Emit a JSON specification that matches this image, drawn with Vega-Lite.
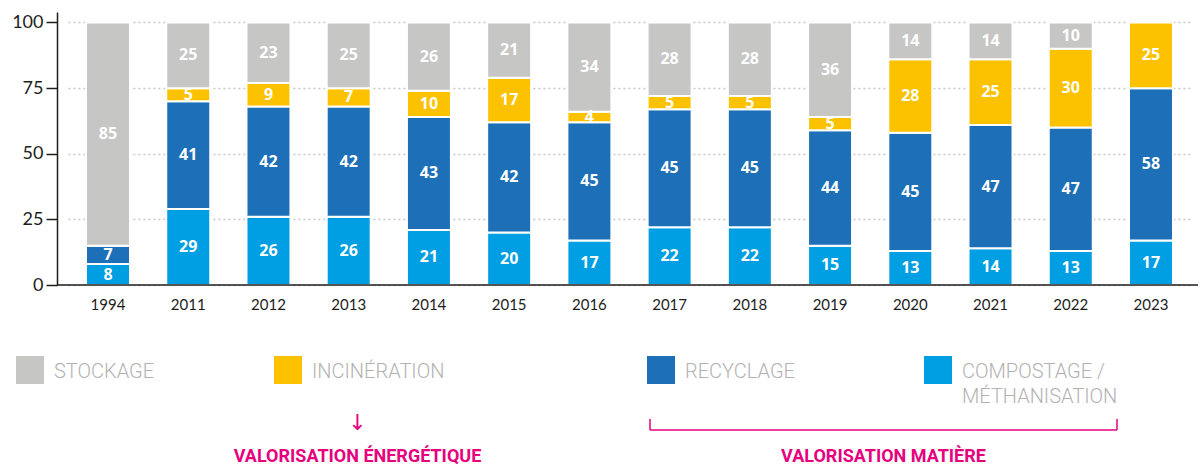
{
  "$schema": "https://vega.github.io/schema/vega-lite/v6.json",
  "width": 1141,
  "height": 273,
  "autosize": {"type": "none"},
  "padding": {"left": 57, "top": 12, "right": 4, "bottom": 181},
  "background": "white",
  "config": {"view": {"stroke": null}},
  "datasets": {
    "parts": [
      {"annee": "1994", "cat": "COMPOSTAGE / MÉTHANISATION", "v": 8},
      {"annee": "1994", "cat": "RECYCLAGE", "v": 7},
      {"annee": "1994", "cat": "STOCKAGE", "v": 85},
      {"annee": "2011", "cat": "COMPOSTAGE / MÉTHANISATION", "v": 29},
      {"annee": "2011", "cat": "RECYCLAGE", "v": 41},
      {"annee": "2011", "cat": "INCINÉRATION", "v": 5},
      {"annee": "2011", "cat": "STOCKAGE", "v": 25},
      {"annee": "2012", "cat": "COMPOSTAGE / MÉTHANISATION", "v": 26},
      {"annee": "2012", "cat": "RECYCLAGE", "v": 42},
      {"annee": "2012", "cat": "INCINÉRATION", "v": 9},
      {"annee": "2012", "cat": "STOCKAGE", "v": 23},
      {"annee": "2013", "cat": "COMPOSTAGE / MÉTHANISATION", "v": 26},
      {"annee": "2013", "cat": "RECYCLAGE", "v": 42},
      {"annee": "2013", "cat": "INCINÉRATION", "v": 7},
      {"annee": "2013", "cat": "STOCKAGE", "v": 25},
      {"annee": "2014", "cat": "COMPOSTAGE / MÉTHANISATION", "v": 21},
      {"annee": "2014", "cat": "RECYCLAGE", "v": 43},
      {"annee": "2014", "cat": "INCINÉRATION", "v": 10},
      {"annee": "2014", "cat": "STOCKAGE", "v": 26},
      {"annee": "2015", "cat": "COMPOSTAGE / MÉTHANISATION", "v": 20},
      {"annee": "2015", "cat": "RECYCLAGE", "v": 42},
      {"annee": "2015", "cat": "INCINÉRATION", "v": 17},
      {"annee": "2015", "cat": "STOCKAGE", "v": 21},
      {"annee": "2016", "cat": "COMPOSTAGE / MÉTHANISATION", "v": 17},
      {"annee": "2016", "cat": "RECYCLAGE", "v": 45},
      {"annee": "2016", "cat": "INCINÉRATION", "v": 4},
      {"annee": "2016", "cat": "STOCKAGE", "v": 34},
      {"annee": "2017", "cat": "COMPOSTAGE / MÉTHANISATION", "v": 22},
      {"annee": "2017", "cat": "RECYCLAGE", "v": 45},
      {"annee": "2017", "cat": "INCINÉRATION", "v": 5},
      {"annee": "2017", "cat": "STOCKAGE", "v": 28},
      {"annee": "2018", "cat": "COMPOSTAGE / MÉTHANISATION", "v": 22},
      {"annee": "2018", "cat": "RECYCLAGE", "v": 45},
      {"annee": "2018", "cat": "INCINÉRATION", "v": 5},
      {"annee": "2018", "cat": "STOCKAGE", "v": 28},
      {"annee": "2019", "cat": "COMPOSTAGE / MÉTHANISATION", "v": 15},
      {"annee": "2019", "cat": "RECYCLAGE", "v": 44},
      {"annee": "2019", "cat": "INCINÉRATION", "v": 5},
      {"annee": "2019", "cat": "STOCKAGE", "v": 36},
      {"annee": "2020", "cat": "COMPOSTAGE / MÉTHANISATION", "v": 13},
      {"annee": "2020", "cat": "RECYCLAGE", "v": 45},
      {"annee": "2020", "cat": "INCINÉRATION", "v": 28},
      {"annee": "2020", "cat": "STOCKAGE", "v": 14},
      {"annee": "2021", "cat": "COMPOSTAGE / MÉTHANISATION", "v": 14},
      {"annee": "2021", "cat": "RECYCLAGE", "v": 47},
      {"annee": "2021", "cat": "INCINÉRATION", "v": 25},
      {"annee": "2021", "cat": "STOCKAGE", "v": 14},
      {"annee": "2022", "cat": "COMPOSTAGE / MÉTHANISATION", "v": 13},
      {"annee": "2022", "cat": "RECYCLAGE", "v": 47},
      {"annee": "2022", "cat": "INCINÉRATION", "v": 30},
      {"annee": "2022", "cat": "STOCKAGE", "v": 10},
      {"annee": "2023", "cat": "COMPOSTAGE / MÉTHANISATION", "v": 17},
      {"annee": "2023", "cat": "RECYCLAGE", "v": 58},
      {"annee": "2023", "cat": "INCINÉRATION", "v": 25}
    ]
  },
  "layer": [
    {
      "data": {"name": "parts"},
      "transform": [
        {"calculate": "indexof(['COMPOSTAGE / MÉTHANISATION','RECYCLAGE','INCINÉRATION','STOCKAGE'], datum.cat)", "as": "rang"},
        {"stack": "v", "groupby": ["annee"], "sort": [{"field": "rang", "order": "ascending"}], "as": ["v0", "v1"]},
        {"calculate": "(datum.v0 + datum.v1) / 2", "as": "vmid"}
      ],
      "encoding": {
        "x": {
          "field": "annee", "type": "ordinal",
          "scale": {"range": [10.9, 1134.1], "paddingInner": 0.4516, "paddingOuter": 0.2258},
          "axis": {"title": null, "ticks": false, "tickSize": 0, "domain": false, "labelAngle": 0, "labelPadding": 12, "labelFontSize": 15, "labelFont": "Lato", "labelColor": "#1d1d1b"}
        }
      },
      "layer": [
        {
          "mark": {"type": "bar", "stroke": "white", "strokeWidth": 2},
          "encoding": {
            "y": {
              "field": "v0", "type": "quantitative",
              "scale": {"domain": [0, 104], "nice": false},
              "axis": {"title": null, "values": [0, 25, 50, 75, 100], "grid": true, "gridDash": [2, 3], "gridColor": "#c6c6c6", "gridWidth": 1.5, "domainColor": "#1d1d1b", "domainWidth": 1.5, "tickColor": "#1d1d1b", "tickWidth": 1.5, "tickSize": 11, "labelPadding": 3, "labelFontSize": 18, "labelFont": "Lato", "labelColor": "#1d1d1b"}
            },
            "y2": {"field": "v1"},
            "color": {
              "field": "cat", "type": "nominal",
              "scale": {"domain": ["STOCKAGE", "INCINÉRATION", "RECYCLAGE", "COMPOSTAGE / MÉTHANISATION"], "range": ["#c6c6c5", "#fcc200", "#1d70b7", "#009fe3"]},
              "legend": {
                "title": null, "orient": "none", "legendX": -41, "legendY": 344, "direction": "horizontal",
                "padding": 0, "symbolType": "square", "symbolSize": 784, "symbolStrokeWidth": 0, "symbolOpacity": 1,
                "labelFont": "Roboto", "labelFontWeight": 300, "labelFontSize": 20, "labelColor": "#b2b2b2",
                "labelOffset": 10, "columnPadding": 119, "labelLimit": 0,
                "labelExpr": "datum.label == 'COMPOSTAGE / MÉTHANISATION' ? ['COMPOSTAGE /', 'MÉTHANISATION'] : datum.label == 'INCINÉRATION' ? ['INCINÉRATION\u00a0\u00a0\u00a0\u00a0\u00a0\u00a0\u00a0\u00a0\u00a0\u00a0\u00a0\u00a0\u00a0\u00a0\u00a0\u00a0\u00a0\u200b', ''] : datum.label == 'RECYCLAGE' ? ['RECYCLAGE\u00a0\u00a0\u200b', ''] : [datum.label, '']",
                "encoding": {"labels": {"dy": {"value": 2}, "lineHeight": {"value": 25}}}
              }
            }
          }
        },
        {
          "mark": {"type": "text", "color": "white", "fontWeight": "bold", "fontSize": 16, "font": "Open Sans"},
          "encoding": {
            "y": {"field": "vmid", "type": "quantitative"},
            "text": {"field": "v", "type": "quantitative"}
          }
        }
      ]
    },
    {
      "data": {"values": [{}]},
      "mark": {"type": "rule", "color": "#1d1d1b", "strokeWidth": 1.5},
      "encoding": {"y": {"datum": 0}}
    },
    {
      "data": {"values": [{"entree": "INCINÉRATION", "libelle": "VALORISATION ÉNERGÉTIQUE"}]},
      "encoding": {
        "x": {"field": "entree", "type": "nominal", "scale": {"type": "point", "domain": ["INCINÉRATION"], "range": [300.5, 300.5], "padding": 0}, "axis": null},
        "y": {"datum": 0}
      },
      "layer": [
        {"mark": {"type": "text", "text": "↓", "yOffset": 138, "fontSize": 22, "font": "DejaVu Sans", "color": "#e6007e"}},
        {"mark": {"type": "text", "yOffset": 172, "fontSize": 18, "fontWeight": "bold", "font": "Roboto", "color": "#e6007e"},
         "encoding": {"text": {"field": "libelle"}}}
      ]
    },
    {
      "data": {"values": [{"de": "RECYCLAGE", "a": "COMPOSTAGE / MÉTHANISATION", "libelle": "VALORISATION MATIÈRE"}]},
      "layer": [
        {"mark": {"type": "rule", "color": "#e6007e", "strokeWidth": 1.5, "yOffset": 145},
         "encoding": {
           "x": {"field": "de", "type": "nominal", "scale": {"type": "point", "domain": ["RECYCLAGE", "VALORISATION MATIÈRE", "COMPOSTAGE / MÉTHANISATION"], "range": [593, 1060], "padding": 0}, "axis": null},
           "x2": {"field": "a"},
           "y": {"datum": 0}
         }},
        {"mark": {"type": "rule", "color": "#e6007e", "strokeWidth": 1.5, "yOffset": 134, "y2Offset": 145},
         "encoding": {"x": {"field": "de", "type": "nominal"}, "y": {"datum": 0}, "y2": {"datum": 0}}},
        {"mark": {"type": "rule", "color": "#e6007e", "strokeWidth": 1.5, "yOffset": 134, "y2Offset": 145},
         "encoding": {"x": {"field": "a", "type": "nominal"}, "y": {"datum": 0}, "y2": {"datum": 0}}},
        {"mark": {"type": "text", "yOffset": 172, "fontSize": 18, "fontWeight": "bold", "font": "Roboto", "color": "#e6007e"},
         "encoding": {"x": {"field": "libelle", "type": "nominal"}, "y": {"datum": 0}, "text": {"field": "libelle"}}}
      ]
    }
  ],
  "resolve": {"scale": {"x": "independent"}}
}
